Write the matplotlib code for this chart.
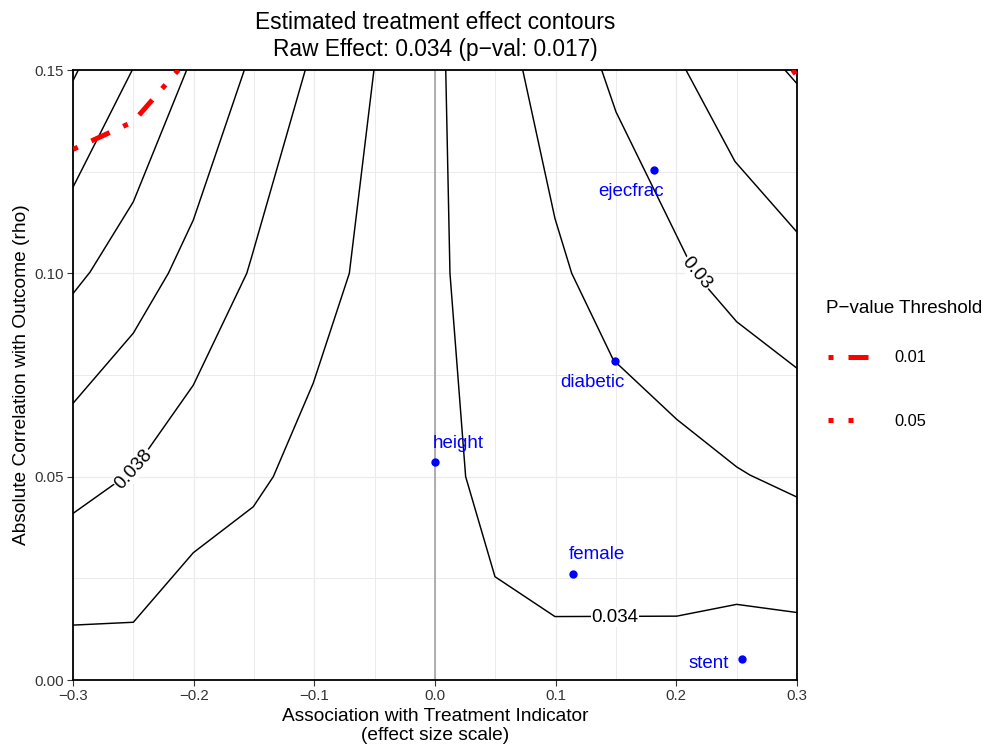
import matplotlib
matplotlib.use("Agg")
import matplotlib.pyplot as plt
from matplotlib.lines import Line2D
from matplotlib.ticker import MultipleLocator, FixedLocator

plt.rcParams['font.family'] = ['Liberation Sans', 'DejaVu Sans']
plt.rcParams['axes.unicode_minus'] = True

# ---------------- data ----------------
# black treatment-effect contour lines (x = association, y = correlation)
contour_a_x = [-0.2998, -0.2956]
contour_a_y = [0.1475, 0.1500]
contour_b_x = [-0.2509, -0.2998]
contour_b_y = [0.1500, 0.1213]
contour_c_x = [-0.2058, -0.2500, -0.2859, -0.2998]
contour_c_y = [0.1500, 0.1176, 0.1003, 0.0951]
contour_d_x = [-0.1580, -0.2003, -0.2210, -0.2500, -0.2998]
contour_d_y = [0.1500, 0.1131, 0.1000, 0.0853, 0.0681]
contour_e_x = [-0.1075, -0.1519, -0.1560, -0.2003, -0.2500, -0.2998]
contour_e_y = [0.1500, 0.1041, 0.1000, 0.0725, 0.0515, 0.0410]
contour_f_x = [-0.0506, -0.0710, -0.1009, -0.1340, -0.1506, -0.2003, -0.2500, -0.2998]
contour_f_y = [0.1500, 0.1000, 0.0730, 0.0500, 0.0426, 0.0313, 0.0142, 0.0135]
contour_g_x = [0.0089, 0.0124, 0.0254, 0.0497, 0.0994, 0.2003, 0.2500, 0.2998]
contour_g_y = [0.1500, 0.1000, 0.0500, 0.0254, 0.0156, 0.0157, 0.0186, 0.0166]
contour_h_x = [0.0727, 0.0994, 0.1133, 0.1478, 0.2003, 0.2500, 0.2610, 0.2998]
contour_h_y = [0.1500, 0.1135, 0.1000, 0.0787, 0.0641, 0.0524, 0.0504, 0.0450]
contour_i_x = [0.1381, 0.1500, 0.2155, 0.2500, 0.2998]
contour_i_y = [0.1500, 0.1397, 0.1000, 0.0881, 0.0767]
contour_j_x = [0.2080, 0.2486, 0.2998]
contour_j_y = [0.1500, 0.1275, 0.1102]
contour_k_x = [0.2900, 0.2998]
contour_k_y = [0.1500, 0.1467]

# p-value threshold contours
pval_01_x = [-0.2998, -0.2500, -0.2127]
pval_01_y = [0.1305, 0.1373, 0.1500]
pval_05_x = [0.2965, 0.3000]
pval_05_y = [0.1500, 0.1485]

# contour labels
contour_label_text = ["0.038", "0.034", "0.03"]
contour_label_x = [-0.2494, 0.1492, 0.2169]
contour_label_y = [0.0518, 0.0154, 0.1000]

# covariates
cov_names = ["height", "ejecfrac", "diabetic", "female", "stent"]
cov_x = [0.0000, 0.1815, 0.1492, 0.1144, 0.2544]
cov_y = [0.0536, 0.1254, 0.0784, 0.0261, 0.0052]

x_ticks = [-0.3, -0.2, -0.1, 0.0, 0.1, 0.2, 0.3]
y_ticks = [0.00, 0.05, 0.10, 0.15]
y_tick_labels = ["0.00", "0.05", "0.10", "0.15"]

legend_labels = ["0.01", "0.05"]

# ---------------- style ----------------
contour_label_rot = [48, 0, -50]
cov_label_style = {
    "height":   dict(ha="left",  off=(-2, 19)),
    "ejecfrac": dict(ha="right", off=(10, -21)),
    "diabetic": dict(ha="right", off=(9.5, -21)),
    "female":   dict(ha="left",  off=(-4.5, 19)),
    "stent":    dict(ha="right", off=(-13.5, -4.5)),
}

W, H = 985, 746
fig = plt.figure(figsize=(W / 100, H / 100), dpi=100)
ax = fig.add_axes([73 / W, 1 - 680 / H, (797 - 73) / W, (680 - 70) / H])

ax.set_xlim(-0.3, 0.3)
ax.set_ylim(0, 0.15)

# grid
ax.xaxis.set_major_locator(FixedLocator(x_ticks))
ax.xaxis.set_minor_locator(MultipleLocator(0.05))
ax.yaxis.set_major_locator(FixedLocator(y_ticks))
ax.yaxis.set_minor_locator(MultipleLocator(0.025))
ax.set_yticklabels(y_tick_labels)
ax.grid(which="major", color="#ebebeb", lw=0.9, zorder=0)
ax.grid(which="minor", color="#ebebeb", lw=0.7, zorder=0)
ax.set_axisbelow(True)

# vertical reference line
ax.axvline(0, color="#a8a8a8", lw=1.3, zorder=1)

contours = [
    (contour_a_x, contour_a_y), (contour_b_x, contour_b_y), (contour_c_x, contour_c_y),
    (contour_d_x, contour_d_y), (contour_e_x, contour_e_y), (contour_f_x, contour_f_y),
    (contour_g_x, contour_g_y), (contour_h_x, contour_h_y), (contour_i_x, contour_i_y),
    (contour_j_x, contour_j_y), (contour_k_x, contour_k_y),
]
for cx, cy in contours:
    ax.plot(cx, cy, color="black", lw=1.05, zorder=2, solid_joinstyle="round")

for t, lx, ly, rot in zip(contour_label_text, contour_label_x, contour_label_y, contour_label_rot):
    ax.text(lx, ly, t, fontsize=13.5, rotation=rot, ha="center", va="center",
            rotation_mode="anchor", zorder=3,
            bbox=dict(facecolor="white", edgecolor="none", pad=0.5))

ls01 = (0, (1, 3, 4, 3))
ls05 = (0, (1, 3))
ax.plot(pval_01_x, pval_01_y, color="red", lw=3.6, linestyle=ls01, dash_capstyle="butt", zorder=4)
ax.plot(pval_05_x, pval_05_y, color="red", lw=3.6, linestyle=ls05, dash_capstyle="butt", zorder=4)

ax.plot(cov_x, cov_y, "o", color="blue", ms=6, zorder=5, markeredgewidth=0)
for n, px, py in zip(cov_names, cov_x, cov_y):
    st = cov_label_style[n]
    ax.annotate(n, (px, py), xytext=st["off"], textcoords="offset pixels",
                ha=st["ha"], va="center", color="blue", fontsize=13.5, zorder=6)

for s in ax.spines.values():
    s.set_color("black")
    s.set_linewidth(1.3)
ax.tick_params(which="major", length=4.3, width=0.8, color="#333333",
               labelsize=10.8, labelcolor="#333333", pad=2.5)
ax.tick_params(which="minor", length=0)

ax.set_xlabel("Association with Treatment Indicator\n(effect size scale)", fontsize=13.8,
              linespacing=1.22, labelpad=3)
ax.set_ylabel("Absolute Correlation with Outcome (rho)", fontsize=13.8, labelpad=3)

fig.text((73 + 797) / 2 / W, 1 - 36 / H,
         "Estimated treatment effect contours\nRaw Effect: 0.034 (p\u2212val: 0.017)",
         ha="center", va="center", fontsize=16.4, linespacing=1.24)

# legend
handles = [
    Line2D([], [], color="red", lw=3.6, linestyle=ls01, dash_capstyle="butt"),
    Line2D([], [], color="red", lw=3.6, linestyle=ls05, dash_capstyle="butt"),
]
leg = fig.legend(handles, legend_labels, loc="upper left",
                 bbox_to_anchor=(828 / W, 1 - 350.5 / H), frameon=False,
                 fontsize=11.8, handlelength=2.45, handletextpad=1.6,
                 labelspacing=2.95, borderpad=0, borderaxespad=0)
fig.text(826 / W, 1 - 309 / H, "P\u2212value Threshold", ha="left", va="center", fontsize=13.5)

fig.savefig("out.png", dpi=100)
